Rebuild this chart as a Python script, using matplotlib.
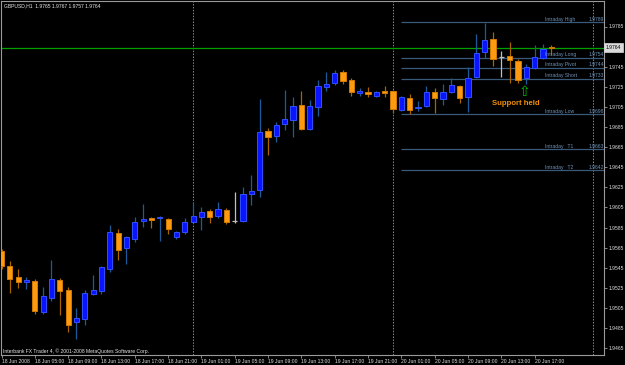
import matplotlib
matplotlib.use('Agg')
import matplotlib.pyplot as plt
import matplotlib.transforms as mtransforms

# ---------------- data ----------------
title_text = "GBPUSD,H1  1.9765 1.9767 1.9757 1.9764"
footer_text = "Interbank FX Trader 4, \u00a9 2001-2008 MetaQuotes Software Corp."

opens = [1.9562, 1.9547, 1.9536, 1.9531, 1.9532, 1.9501, 1.9515, 1.9533, 1.9523, 1.9491,
         1.9494, 1.9519, 1.9522, 1.9544, 1.9580, 1.9565, 1.9574, 1.9591, 1.9594, 1.9594,
         1.9593, 1.9576, 1.9581, 1.9590, 1.9595, 1.9601, 1.9596, 1.9602, 1.9591, 1.9591,
         1.9618, 1.9622, 1.9681, 1.9676, 1.9688, 1.9692, 1.9707, 1.9683, 1.9705, 1.9725,
         1.9729, 1.9740, 1.9732, 1.9719, 1.9720, 1.9716, 1.9721, 1.9721, 1.9702, 1.9714,
         1.9704, 1.9706, 1.9720, 1.9713, 1.9720, 1.9726, 1.9715, 1.9735, 1.9760, 1.9773,
         1.9755, 1.9756, 1.9751, 1.9734, 1.9744, 1.9754, 1.9765]
highs = [1.9564, 1.9552, 1.9544, 1.9536, 1.9534, 1.9526, 1.9553, 1.9535, 1.9526, 1.9505,
         1.9523, 1.9538, 1.9547, 1.9587, 1.9584, 1.9577, 1.9595, 1.9608, 1.9595, 1.9596,
         1.9594, 1.9582, 1.9594, 1.9610, 1.9605, 1.9603, 1.9610, 1.9604, 1.9620, 1.9625,
         1.9637, 1.9713, 1.9684, 1.9690, 1.9722, 1.9715, 1.9721, 1.9712, 1.9732, 1.9740,
         1.9742, 1.9742, 1.9734, 1.9724, 1.9725, 1.9721, 1.9726, 1.9722, 1.9716, 1.9718,
         1.9711, 1.9726, 1.9724, 1.9728, 1.9734, 1.9727, 1.9745, 1.9778, 1.9788, 1.9780,
         1.9761, 1.9770, 1.9753, 1.9748, 1.9767, 1.9768, 1.9767]
lows = [1.9544, 1.9520, 1.9525, 1.9524, 1.9499, 1.9499, 1.9512, 1.9498, 1.9481, 1.9474,
        1.9488, 1.9518, 1.9519, 1.9541, 1.9553, 1.9549, 1.9571, 1.9586, 1.9585, 1.9572,
        1.9579, 1.9574, 1.9579, 1.9589, 1.9583, 1.9589, 1.9594, 1.9588, 1.9589, 1.9590,
        1.9607, 1.9615, 1.9657, 1.9670, 1.9682, 1.9675, 1.9682, 1.9682, 1.9696, 1.9721,
        1.9727, 1.9728, 1.9716, 1.9716, 1.9715, 1.9715, 1.9715, 1.9699, 1.9701, 1.9698,
        1.9701, 1.9705, 1.9699, 1.9707, 1.9719, 1.9709, 1.9700, 1.9734, 1.9754, 1.9746,
        1.9735, 1.9729, 1.9729, 1.9728, 1.9743, 1.9753, 1.9757]
closes = [1.9547, 1.9534, 1.9531, 1.9533, 1.9502, 1.9517, 1.9534, 1.9522, 1.9488, 1.9495,
          1.9520, 1.9523, 1.9546, 1.9581, 1.9563, 1.9576, 1.9590, 1.9593, 1.9592, 1.9595,
          1.9584, 1.9581, 1.9590, 1.9596, 1.9600, 1.9595, 1.9603, 1.9590, 1.9591, 1.9618,
          1.9621, 1.9680, 1.9675, 1.9687, 1.9693, 1.9706, 1.9683, 1.9706, 1.9726, 1.9728,
          1.9739, 1.9731, 1.9720, 1.9721, 1.9718, 1.9720, 1.9719, 1.9703, 1.9715, 1.9702,
          1.9705, 1.9720, 1.9714, 1.9720, 1.9727, 1.9714, 1.9734, 1.9759, 1.9772, 1.9753,
          1.9755, 1.9752, 1.9732, 1.9745, 1.9755, 1.9763, 1.9764]

time_labels = ["18 Jun 2008", "18 Jun 05:00", "18 Jun 09:00", "18 Jun 13:00", "18 Jun 17:00",
               "18 Jun 21:00", "19 Jun 01:00", "19 Jun 05:00", "19 Jun 09:00", "19 Jun 13:00",
               "19 Jun 17:00", "19 Jun 21:00", "20 Jun 01:00", "20 Jun 05:00", "20 Jun 09:00",
               "20 Jun 13:00", "20 Jun 17:00"]
label_bars = list(range(0, 65, 4))
day_separator_bars = [23, 47, 71]

price_ticks = [1.9465, 1.9485, 1.9505, 1.9525, 1.9545, 1.9565, 1.9585, 1.9605, 1.9625,
               1.9645, 1.9665, 1.9685, 1.9705, 1.9725, 1.9745, 1.9765, 1.9785]

pivot_names = ["Intraday High", "Intraday Long", "Intraday Pivot", "Intraday Short",
               "Intraday Low", "Intraday   T1", "Intraday   T2"]
pivot_values = [1.9789, 1.9754, 1.9744, 1.9733, 1.9698, 1.9663, 1.9642]
pivot_start_bar = 48

bid_price = 1.9764
annotation_text = "Support held"
annotation_bar = 63
annotation_price = 1.9708
arrow_price = 1.9720

# ---------------- style ----------------
BULL_FACE, BULL_EDGE, BULL_WICK = '#0A14FF', '#3050FF', '#1E5A9A'
BEAR_FACE, BEAR_EDGE, BEAR_WICK = '#FF9A10', '#D07A00', '#A86400'
DOJI = '#C0C0C0'
AXCOL = '#9A9A9A'
FONT = 'Liberation Sans'
SMALL = 3.6

fig = plt.figure(figsize=(6.25, 3.65), dpi=100, facecolor='black')
ax = fig.add_axes([1 / 625, 10 / 365, 603 / 625, 354 / 365])
ax.set_facecolor('black')

# candles
for i, (o, h, l, c) in enumerate(zip(opens, highs, lows, closes)):
    if c > o:
        face, edge, wick = BULL_FACE, BULL_EDGE, BULL_WICK
    elif c < o:
        face, edge, wick = BEAR_FACE, BEAR_EDGE, BEAR_WICK
    else:
        face, edge, wick = DOJI, DOJI, DOJI
    ax.vlines(i, l, h, color=wick, linewidth=0.9, zorder=2)
    if c == o:
        ax.hlines(o, i - 0.32, i + 0.32, color=DOJI, linewidth=0.9, zorder=3)
    else:
        ax.bar(i, abs(c - o), bottom=min(o, c), width=0.62, color=face,
               edgecolor=edge, linewidth=0.7, zorder=3)

# day separators
for b in day_separator_bars:
    ax.axvline(b, color='#8A8A8A', linewidth=0.7, linestyle=(0, (1.5, 1.5)), zorder=1)

# pivot lines
for name, val in zip(pivot_names, pivot_values):
    ax.hlines(val, pivot_start_bar - 0.05, 80, color='#3A5A7A', linewidth=0.9, zorder=1)
    ax.text(65.2, val + 0.00003, name, color='#6F93B8', fontsize=SMALL, family=FONT,
            va='bottom', ha='left', zorder=4)
    ax.text(70.5, val + 0.00003, f"{val:.4f}", color='#6F93B8', fontsize=SMALL, family=FONT,
            va='bottom', ha='left', zorder=4)

# bid line
ax.axhline(bid_price, color='#00A000', linewidth=0.9, zorder=1.5)

# annotation
ax.text(annotation_bar - 1.2, annotation_price, annotation_text, color='#F0900A',
        fontsize=5.6, fontweight='bold', family=FONT, ha='center', va='center', zorder=5)
ax.text(annotation_bar - 0.25, arrow_price, "\u21e7", color='#00C000', fontsize=10,
        family='DejaVu Sans', ha='center', va='center', zorder=5)

# axes limits
x0_px, step_px = 1.5, 8.33
ax.set_xlim((1 - x0_px) / step_px, (604 - x0_px) / step_px)
ppp = 0.0000995
ax.set_ylim(1.9785 - (355 - 26.5) * ppp, 1.9785 + (26.5 - 1) * ppp)

# spines
for s in ax.spines.values():
    s.set_color(AXCOL)
    s.set_linewidth(0.8)

# y axis on right (the label hidden behind the bid box is left blank)
ax.yaxis.tick_right()
ax.set_yticks(price_ticks)
ax.set_yticklabels(["" if abs(p - bid_price) < 0.00015 else f"{p:.4f}" for p in price_ticks])
ax.tick_params(axis='y', which='both', direction='out', length=2, width=0.6,
               colors=AXCOL, labelcolor='#E0E0E0', labelsize=SMALL, pad=1.5)
for t in ax.get_yticklabels():
    t.set_family(FONT)

# x axis
ax.set_xticks(label_bars)
ax.set_xticklabels(time_labels)
ax.tick_params(axis='x', which='both', direction='out', length=2.5, width=0.6,
               colors=AXCOL, labelcolor='#E0E0E0', labelsize=SMALL, pad=0.5)
for t in ax.get_xticklabels():
    t.set_family(FONT)
    t.set_ha('left')

# bid price box
trans = mtransforms.blended_transform_factory(ax.transAxes, ax.transData)
ax.text(1.0035, bid_price, f"{bid_price:.4f}", transform=trans, color='black',
        fontsize=SMALL, family=FONT, ha='left', va='center', zorder=10, clip_on=False,
        bbox=dict(boxstyle='square,pad=0.35', fc='#DADADA', ec='#DADADA', lw=0.5))

# header / footer
fig.text(4 / 625, 1 - 5.7 / 365, title_text, color='#E8E8E8', fontsize=SMALL, family=FONT,
         ha='left', va='center')
fig.text(3 / 625, 1 - 351.5 / 365, footer_text, color='#E8E8E8', fontsize=SMALL, family=FONT,
         ha='left', va='center')

fig.savefig('out.png', dpi=100, facecolor='black')
